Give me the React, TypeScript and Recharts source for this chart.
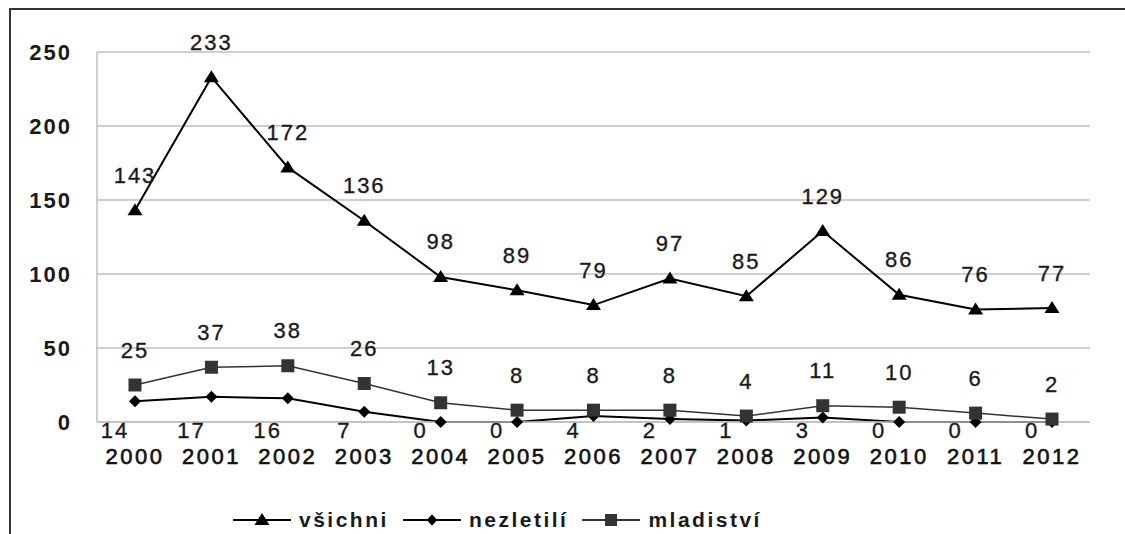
import React from 'react';
import { LineChart, Line, XAxis, YAxis, CartesianGrid, Legend, LabelList } from 'recharts';

const years = ['2000', '2001', '2002', '2003', '2004', '2005', '2006', '2007', '2008', '2009', '2010', '2011', '2012'];
const vsichni = [143, 233, 172, 136, 98, 89, 79, 97, 85, 129, 86, 76, 77];
const nezletili = [14, 17, 16, 7, 0, 0, 4, 2, 1, 3, 0, 0, 0];
const mladistvi = [25, 37, 38, 26, 13, 8, 8, 8, 4, 11, 10, 6, 2];
const yTicks = [0, 50, 100, 150, 200, 250];
const seriesNames = ['všichni', 'nezletilí', 'mladiství'];

const data = years.map((year, i) => ({
  year,
  vsichni: vsichni[i],
  nezletili: nezletili[i],
  mladistvi: mladistvi[i],
}));

const W = 1125;
const H = 534;
const MARGIN = { top: 52, right: 35, bottom: 62, left: 8 };
const XAXIS_H = 50;
const PLOT_BOTTOM = H - MARGIN.bottom - XAXIS_H;
const FONT = '"Liberation Sans", Arial, sans-serif';

const Triangle = (props: any) => {
  const { cx, cy } = props;
  if (cx == null || cy == null) return null;
  return <path d={`M${cx},${cy - 7} L${cx - 7.5},${cy + 5} L${cx + 7.5},${cy + 5} Z`} fill="#000" />;
};
const Diamond = (props: any) => {
  const { cx, cy } = props;
  if (cx == null || cy == null) return null;
  return <path d={`M${cx},${cy - 6} L${cx + 6},${cy} L${cx},${cy + 6} L${cx - 6},${cy} Z`} fill="#000" />;
};
const Square = (props: any) => {
  const { cx, cy } = props;
  if (cx == null || cy == null) return null;
  return <rect x={cx - 6.5} y={cy - 6.5} width={13} height={13} fill="#333" />;
};

const AboveLabel = (props: any) => {
  const { x, y, value } = props;
  return (
    <text x={x} y={y - 35} textAnchor="middle" dominantBaseline="central" fontFamily={FONT} fontSize={22} letterSpacing={2} fill="#1a1a1a" stroke="#1a1a1a" strokeWidth={0.35}>
      {value}
    </text>
  );
};
const BelowLabel = (props: any) => {
  const { x, value } = props;
  return (
    <text x={x - 20} y={PLOT_BOTTOM + 8} textAnchor="middle" dominantBaseline="central" fontFamily={FONT} fontSize={22} letterSpacing={2} fill="#1a1a1a" stroke="#1a1a1a" strokeWidth={0.35}>
      {value}
    </text>
  );
};

const YTick = (props: any) => {
  const { x, y, payload } = props;
  return (
    <text x={x} y={y} textAnchor="end" dominantBaseline="central" fontFamily={FONT} fontSize={22} fontWeight="bold" letterSpacing={2} fill="#1a1a1a">
      {payload.value}
    </text>
  );
};
const XTick = (props: any) => {
  const { x, y, payload } = props;
  return (
    <text x={x} y={y} textAnchor="middle" dominantBaseline="central" fontFamily={FONT} fontSize={22} letterSpacing={2.5} fill="#111" stroke="#111" strokeWidth={0.6}>
      {payload.value}
    </text>
  );
};

const LegendIcon = ({ kind }: { kind: number }) => (
  <svg width={58} height={20} style={{ display: 'block' }}>
    <line x1={0} y1={10} x2={58} y2={10} stroke={kind === 2 ? '#333' : '#000'} strokeWidth={2} />
    {kind === 0 && <path d="M29,3 L21.5,15 L36.5,15 Z" fill="#000" />}
    {kind === 1 && <path d="M29,4.5 L34.5,10 L29,15.5 L23.5,10 Z" fill="#000" />}
    {kind === 2 && <rect x={23} y={4} width={12} height={12} fill="#333" />}
  </svg>
);

const LegendContent = () => (
  <div style={{ display: 'flex', alignItems: 'center', fontFamily: FONT, fontSize: 21, fontWeight: 'bold', letterSpacing: 2.5, color: '#1a1a1a' }}>
    {seriesNames.map((n, i) => (
      <div key={n} style={{ display: 'flex', alignItems: 'center', marginRight: 14 }}>
        <LegendIcon kind={i} />
        <span style={{ marginLeft: 8 }}>{n}</span>
      </div>
    ))}
  </div>
);

export default function App() {
  return (
    <div style={{ position: 'relative', width: W, height: H, background: '#fff', overflow: 'hidden' }}>
      <style>{'html, body { margin: 0; padding: 0; overflow: hidden; }'}</style>
      <div style={{ position: 'absolute', left: 9, top: 8, width: 2, height: H - 8, background: '#333' }} />
      <div style={{ position: 'absolute', left: 9, top: 8, width: W - 9, height: 2, background: '#333' }} />
      <LineChart width={W} height={H} data={data} margin={MARGIN}>
        <CartesianGrid vertical={false} stroke="#bfbfbf" strokeWidth={1.5} />
        <XAxis
          dataKey="year"
          height={XAXIS_H}
          padding={{ left: 38, right: 38 }}
          axisLine={{ stroke: '#bfbfbf', strokeWidth: 1.5 }}
          tickLine={false}
          tickSize={0}
          tickMargin={34}
          tick={<XTick />}
          interval={0}
        />
        <YAxis
          width={89}
          domain={[0, 250]}
          ticks={yTicks}
          axisLine={{ stroke: '#bfbfbf', strokeWidth: 1.5 }}
          tickLine={false}
          tickSize={0}
          tickMargin={25}
          tick={<YTick />}
        />
        <Legend
          verticalAlign="middle"
          align="center"
          layout="horizontal"
          content={<LegendContent />}
          wrapperStyle={{ left: 233, top: 508, width: 700 }}
        />
        <Line dataKey="vsichni" name={seriesNames[0]} stroke="#000" strokeWidth={2} dot={<Triangle />} isAnimationActive={false} legendType="triangle">
          <LabelList dataKey="vsichni" content={<AboveLabel />} />
        </Line>
        <Line dataKey="nezletili" name={seriesNames[1]} stroke="#000" strokeWidth={2} dot={<Diamond />} isAnimationActive={false} legendType="diamond">
          <LabelList dataKey="nezletili" content={<BelowLabel />} />
        </Line>
        <Line dataKey="mladistvi" name={seriesNames[2]} stroke="#333" strokeWidth={1.5} dot={<Square />} isAnimationActive={false} legendType="square">
          <LabelList dataKey="mladistvi" content={<AboveLabel />} />
        </Line>
      </LineChart>
    </div>
  );
}
